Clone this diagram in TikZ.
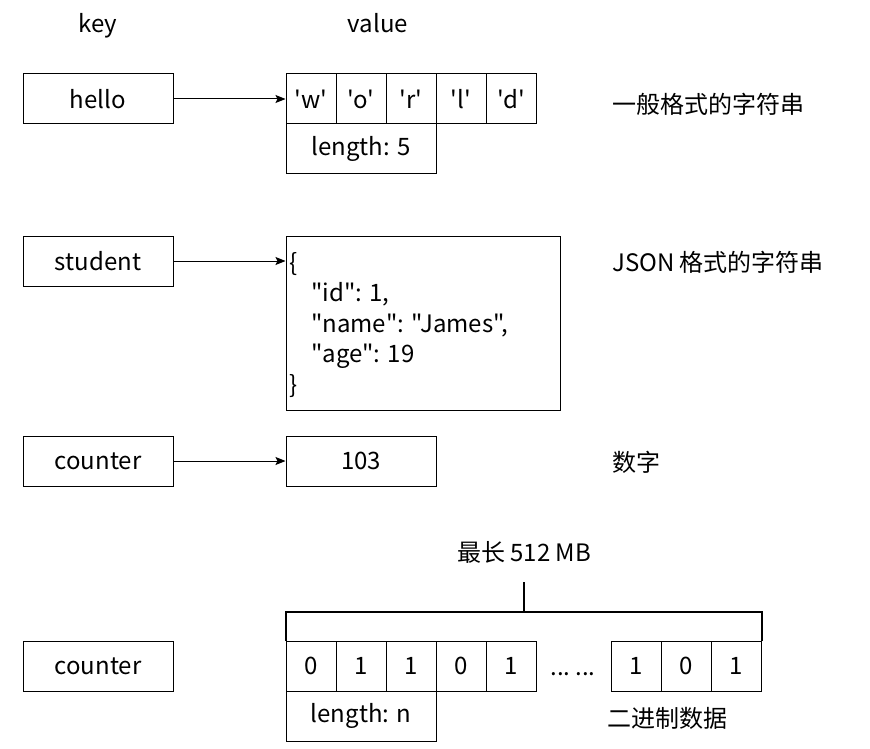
\documentclass[tikz,border=0pt]{standalone}
\usepackage{fontspec}
\setmainfont[Ligatures=TeXOff]{Noto Sans CJK SC}
\usepackage{tikz}
\usetikzlibrary{calc}
\usetikzlibrary{arrows.meta}

\begin{document}
\begin{tikzpicture}[x=1pt, y=-1pt, font=\fontsize{24}{30.5}\selectfont]
\tikzstyle{keybox}=[draw=black, line width=1, minimum width=150, minimum height=50, inner sep=0pt]
\tikzstyle{cell}=[draw=black, line width=1, minimum width=50, minimum height=50, inner sep=0pt]
\tikzstyle{widecell}=[draw=black, line width=1, minimum width=150, minimum height=50, inner sep=0pt]
\tikzstyle{note}=[anchor=west, inner sep=0pt]
\tikzstyle{link}=[-{Stealth[length=10pt, width=8pt, inset=2pt]}, line width=1]

\useasboundingbox (0,0) rectangle (870,749);

% titles
\path (98, 33) node[anchor=base](keytitle) {key}
      (378, 33) node[anchor=base](valtitle) {value};

% plain string
\path (98, 99) node[keybox](hello) {hello}
      (311, 99) node[cell](w) {'w'}
      (361, 99) node[cell](o) {'o'}
      (411, 99) node[cell](r) {'r'}
      (461, 99) node[cell](l) {'l'}
      (511, 99) node[cell](d) {'d'}
      (361, 148.5) node[widecell](len5) {length: 5}
      (612, 104) node[note](strnote) {一般格式的字符串};
\draw[link] (hello) -- (w);

% json string
\path (98, 261) node[keybox](student) {student}
      (423, 323) node[draw=black, line width=1, minimum height=174, text width=270, align=left, inner xsep=2pt, inner ysep=0pt](json) {}
      (289, 325) node[anchor=west, inner sep=0pt, align=left](jsontext)
        {\{\\ \hspace*{22pt}"id": 1,\\ \hspace*{22pt}"name": "James",\\ \hspace*{22pt}"age": 19\\ \}}
      (612, 262) node[note](jsonnote) {JSON 格式的字符串};
\draw[link] (student) -- (student -| json.west);

% number
\path (98, 461) node[keybox](counter) {counter}
      (361, 461) node[widecell](num) {103}
      (612, 462) node[note](numnote) {数字};
\draw[link] (counter) -- (num);

% binary
\path (98, 666) node[keybox](counterb) {counter}
      (311, 666) node[cell](b1) {0}
      (361, 666) node[cell](b2) {1}
      (411, 666) node[cell](b3) {1}
      (461, 666) node[cell](b4) {0}
      (511, 666) node[cell](b5) {1}
      (573, 675) node[anchor=base](dots) {...\hspace{5pt}...}
      (636, 666) node[cell](b6) {1}
      (686, 666) node[cell](b7) {0}
      (736, 666) node[cell](b8) {1}
      (361, 716) node[widecell](lenn) {length: n}
      (607, 718) node[note](binnote) {二进制数据}
      (524, 552) node(maxlen) {最长 512 MB};
\draw[line width=2] (b1.north west) -- ++(0,-29) coordinate(bl) -| (b8.north east);
\draw[line width=2] ($(b1.north west)!0.5!(b8.north east)$) ++(0,-29) -- ++(0,-30);

\end{tikzpicture}
\end{document}
